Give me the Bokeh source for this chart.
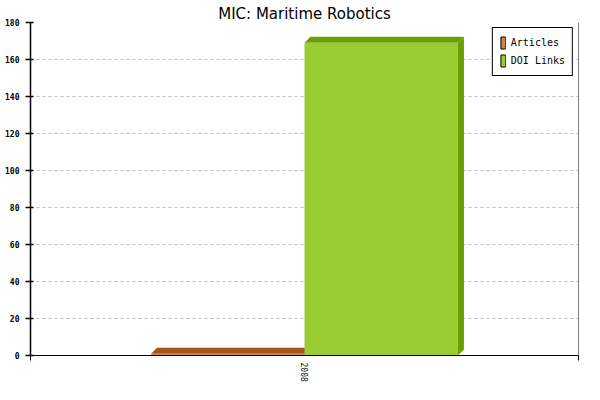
from bokeh.plotting import figure
from bokeh.models import Range1d, FixedTicker, Legend, LegendItem, Span
from bokeh.embed import file_html
from bokeh.resources import INLINE

# ---- data ----
title_text = "MIC: Maritime Robotics"
categories = ["2008"]
series_names = ["Articles", "DOI Links"]
articles = [1]
doi_links = [169]
y_ticks = [0, 20, 40, 60, 80, 100, 120, 140, 160, 180]

# ---- style ----
front_colors = ["#CD853F", "#9ACD32"]
shade_colors = ["#A0571E", "#6B9E00"]
W, H = 584, 384
BL, BR, BT, BB = 30, 6, 22, 29
FW, FH = W - BL - BR, H - BT - BB
DEPTH_PX = 6
Y_MAX = y_ticks[-1]
n = len(categories)

p = figure(width=W, height=H, output_backend="svg", toolbar_location=None,
           x_range=Range1d(0, n), y_range=Range1d(0, Y_MAX),
           min_border_left=BL, min_border_right=BR, min_border_top=BT, min_border_bottom=BB,
           background_fill_color="white", border_fill_color="white")
p.outline_line_color = None

dx = DEPTH_PX / FW * n
dy = DEPTH_PX / FH * Y_MAX
bar_w = 0.28
series = [articles, doi_links]

for j, (name, vals) in enumerate(zip(series_names, series)):
    xs_c = [i + 0.5 + (j - 0.5) * bar_w for i in range(n)]
    x0 = [c - bar_w / 2 for c in xs_c]
    x1 = [c + bar_w / 2 for c in xs_c]
    top_xs = [[a, b, b + dx, a + dx] for a, b in zip(x0, x1)]
    top_ys = [[v, v, v + dy, v + dy] for v in vals]
    side_xs = [[b, b + dx, b + dx, b] for b in x1]
    side_ys = [[0, dy, v + dy, v] for v in vals]
    p.patches(top_xs + side_xs, top_ys + side_ys, fill_color=shade_colors[j], line_color=None)
    p.vbar(x=xs_c, top=vals, bottom=0, width=bar_w, fill_color=front_colors[j], line_color=None)

# legend swatch proxies (placed outside the visible x range, so only the legend shows them)
items = []
for j, name in enumerate(series_names):
    r = p.vbar(x=[-5], top=[1], bottom=0, width=0.1, fill_color=front_colors[j],
               line_color="black", line_width=1)
    items.append(LegendItem(label=name, renderers=[r]))

legend = Legend(items=items, location="top_right", margin=5, padding=7, spacing=3,
                glyph_width=6, glyph_height=15, label_height=15, label_standoff=5,
                label_text_font="DejaVu Sans Mono", label_text_font_size="10px",
                label_text_color="black", border_line_color="black", border_line_width=1,
                border_line_alpha=1.0,
                background_fill_color="white", background_fill_alpha=1.0)
p.add_layout(legend)

# right border line
p.add_layout(Span(location=n, dimension="height", line_color="black", line_width=1))

# axes
xa = p.xaxis[0]
xa.ticker = FixedTicker(ticks=[i + 0.5 for i in range(n)], minor_ticks=list(range(n + 1)))
xa.major_label_overrides = {i + 0.5: c for i, c in enumerate(categories)}
xa.major_tick_line_color = None
xa.major_tick_out = 0
xa.major_tick_in = 0
xa.minor_tick_line_color = "black"
xa.minor_tick_out = 5
xa.minor_tick_in = 0
xa.major_label_orientation = "vertical"
xa.major_label_standoff = 2
xa.major_label_text_font = "DejaVu Sans Mono"
xa.major_label_text_font_size = "8px"
xa.major_label_text_color = "black"
xa.axis_line_color = "black"

ya = p.yaxis[0]
ya.ticker = FixedTicker(ticks=y_ticks, minor_ticks=[])
ya.major_tick_out = 5
ya.major_tick_in = 3
ya.major_tick_line_width = 1.5
ya.major_tick_line_color = "black"
ya.major_label_standoff = 6
ya.major_label_text_font = "DejaVu Sans Mono"
ya.major_label_text_font_style = "bold"
ya.major_label_text_font_size = "8px"
ya.major_label_text_color = "black"
ya.axis_line_color = "black"
ya.axis_line_width = 1.5

p.xgrid.grid_line_color = None
p.ygrid.grid_line_color = "#C0C0C0"
p.ygrid.grid_line_dash = "3 3"
p.ygrid.grid_line_width = 1

p.title.text = title_text
p.title.align = "center"
p.title.text_font = "DejaVu Sans"
p.title.text_font_size = "15px"
p.title.text_font_style = "normal"
p.title.text_color = "black"
p.title.standoff = 0
p.title.offset = -4

open("out.html", "w").write(file_html(p, INLINE))
